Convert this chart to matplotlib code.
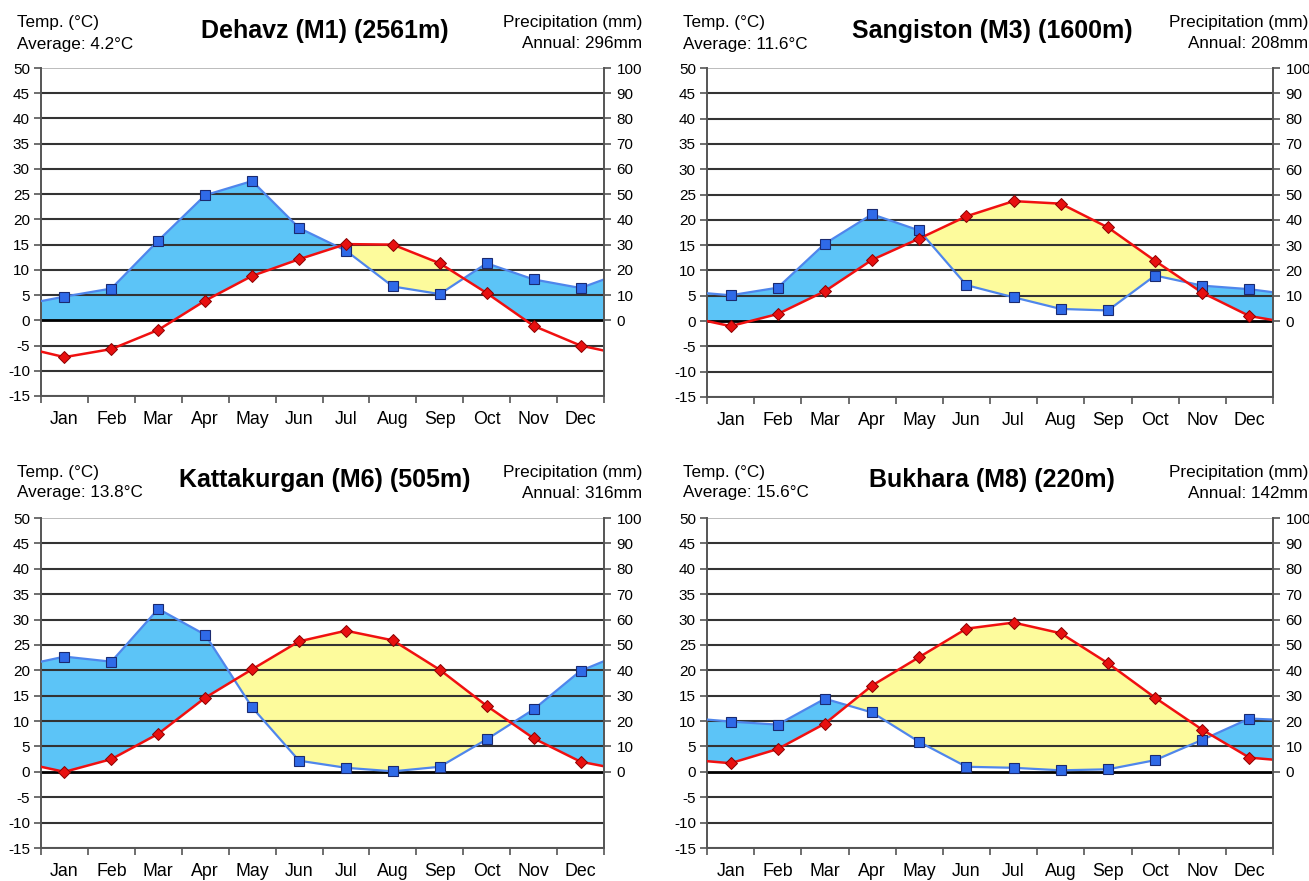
import numpy as np
import matplotlib.pyplot as plt
from matplotlib.transforms import ScaledTranslation

plt.rcParams['font.family'] = ['Liberation Sans', 'DejaVu Sans']

months = ["Jan", "Feb", "Mar", "Apr", "May", "Jun", "Jul", "Aug", "Sep", "Oct", "Nov", "Dec"]
stations = ["Dehavz (M1) (2561m)", "Sangiston (M3) (1600m)",
            "Kattakurgan (M6) (505m)", "Bukhara (M8) (220m)"]
avg_temp = [4.2, 11.6, 13.8, 15.6]
annual_precip = [296, 208, 316, 142]

# monthly mean temperature (°C)
dehavz_temp = [-7.3, -5.7, -1.9, 3.9, 8.8, 12.1, 15.1, 15.0, 11.3, 5.4, -1.1, -5.0]
sangiston_temp = [-1.0, 1.4, 5.9, 12.1, 16.3, 20.7, 23.7, 23.2, 18.5, 11.9, 5.6, 1.0]
kattakurgan_temp = [0.0, 2.5, 7.5, 14.6, 20.2, 25.7, 27.8, 25.9, 20.1, 13.0, 6.6, 2.0]
bukhara_temp = [1.7, 4.5, 9.5, 17.0, 22.6, 28.2, 29.4, 27.3, 21.4, 14.6, 8.3, 2.8]

# monthly precipitation (mm)
dehavz_precip = [9.4, 12.6, 31.6, 49.6, 55.2, 36.6, 27.6, 13.4, 10.4, 22.6, 16.2, 12.8]
sangiston_precip = [10.2, 13.2, 30.6, 42.2, 35.8, 14.2, 9.4, 4.8, 4.2, 18.0, 14.0, 12.6]
kattakurgan_precip = [45.4, 43.4, 64.2, 54.0, 25.4, 4.4, 1.6, 0.2, 2.0, 12.8, 24.6, 39.8]
bukhara_precip = [19.8, 18.6, 28.8, 23.4, 11.8, 2.0, 1.6, 0.6, 1.0, 4.6, 12.6, 21.0]

# values where the curves meet the left / right plot edges
dehavz_temp_edges = [-6.2, -6.0]
sangiston_temp_edges = [0.0, 0.2]
kattakurgan_temp_edges = [1.0, 1.1]
bukhara_temp_edges = [2.1, 2.4]
dehavz_precip_edges = [7.6, 16.2]
sangiston_precip_edges = [11.0, 11.4]
kattakurgan_precip_edges = [43.4, 43.6]
bukhara_precip_edges = [20.6, 20.6]

temps = [dehavz_temp, sangiston_temp, kattakurgan_temp, bukhara_temp]
precips = [dehavz_precip, sangiston_precip, kattakurgan_precip, bukhara_precip]
temp_edges = [dehavz_temp_edges, sangiston_temp_edges, kattakurgan_temp_edges, bukhara_temp_edges]
precip_edges = [dehavz_precip_edges, sangiston_precip_edges, kattakurgan_precip_edges, bukhara_precip_edges]

MM_PER_DEG = 2.0
W, H = 1309, 881
fig = plt.figure(figsize=(W / 100, H / 100), dpi=100)

# panel boxes in pixels: (left, top, right, bottom)
boxes = [(41, 68, 604, 396), (707, 68, 1273, 397),
         (41, 518, 604, 848), (707, 518, 1273, 848)]
right_text_x = [642, 1308, 642, 1308]
left_text_x = [17, 683, 17, 683]

BLUE_FILL = '#5cc4f7'
YELLOW_FILL = '#fdfb9c'
BLUE_LINE = '#4f86ec'
RED_LINE = '#f01010'
GRID = '#333333'
TXT = 12.3

for i in range(4):
    l, t, r, b = boxes[i]
    ax = fig.add_axes([l / W, 1 - b / H, (r - l) / W, (b - t) / H])
    ax2 = ax.twinx()

    xc = np.arange(12) + 0.5
    xs = np.concatenate([[0.0], xc, [12.0]])
    tv = np.concatenate([[temp_edges[i][0]], temps[i], [temp_edges[i][1]]])
    pv = np.concatenate([[precip_edges[i][0]], precips[i], [precip_edges[i][1]]]) / MM_PER_DEG

    xd = np.linspace(0, 12, 2401)
    td = np.interp(xd, xs, tv)
    pd_ = np.interp(xd, xs, pv)

    ax.fill_between(xd, pd_, np.maximum(td, 0), where=pd_ >= np.maximum(td, 0),
                    interpolate=True, color=BLUE_FILL, lw=0, zorder=1)
    ax.fill_between(xd, td, pd_, where=td >= pd_, interpolate=True,
                    color=YELLOW_FILL, lw=0, zorder=1)

    for yv in range(-15, 51, 5):
        if yv == 0:
            ax.axhline(yv, color='black', lw=2.0, zorder=2)
        elif yv == 50:
            ax.axhline(yv, color='#b0b0b0', lw=1.2, zorder=2)
        else:
            ax.axhline(yv, color=GRID, lw=1.5, zorder=2)

    ax.plot(xs, pv, color=BLUE_LINE, lw=1.6, zorder=3)
    ax.plot(xc, np.array(precips[i]) / MM_PER_DEG, ls='none', marker='s', ms=6.8,
            mfc='#2f6ae8', mec='#1a2a70', mew=0.8, zorder=4)
    ax.plot(xs, tv, color=RED_LINE, lw=1.8, zorder=3)
    ax.plot(xc, temps[i], ls='none', marker='D', ms=5.8,
            mfc='#e81010', mec='#8a0000', mew=0.7, zorder=4)

    ax.set_xlim(0, 12)
    ax.set_ylim(-15, 50)
    ax.set_yticks(range(-15, 51, 5))
    ax.set_yticklabels([str(v) for v in range(-15, 51, 5)], fontsize=11)
    ax.set_xticks(range(13))
    ax.set_xticklabels([])
    ax.set_xticks(xc, minor=True)
    ax.set_xticklabels(months, minor=True, fontsize=12.8)
    shift = ScaledTranslation(-5 / 100, 0, fig.dpi_scale_trans)
    for lab in ax.get_xticklabels(minor=True):
        lab.set_transform(lab.get_transform() + shift)
    ax.tick_params(axis='x', which='minor', length=0, pad=11)
    ax.tick_params(axis='x', which='major', length=5, width=1.2, color='#555555', direction='out')
    ax.tick_params(axis='y', length=5, width=1.2, color='#555555', direction='out', pad=3)

    ax2.set_ylim(-15 * MM_PER_DEG, 50 * MM_PER_DEG)
    ax2.set_yticks(range(0, 101, 10))
    ax2.set_yticklabels([str(v) for v in range(0, 101, 10)], fontsize=11)
    ax2.tick_params(axis='y', length=5, width=1.2, color='#555555', direction='out', pad=4)

    for a in (ax, ax2):
        a.spines['top'].set_visible(False)
        for s in ('left', 'right', 'bottom'):
            a.spines[s].set_color('#555555')
            a.spines[s].set_linewidth(1.4)
    ax.spines['right'].set_visible(False)
    ax2.spines['left'].set_visible(False)
    ax2.spines['bottom'].set_visible(False)

    # header texts
    top_off = 0 if i < 2 else 449
    cx = (l + r) / 2 + 2
    fig.text(cx / W, 1 - (31 + top_off) / H, stations[i], ha='center', va='center',
             fontsize=18, fontweight='bold')
    fig.text(left_text_x[i] / W, 1 - (23 + top_off) / H, "Temp. (°C)", ha='left',
             va='center', fontsize=TXT)
    fig.text(left_text_x[i] / W, 1 - (44 + top_off) / H, f"Average: {avg_temp[i]}°C",
             ha='left', va='center', fontsize=TXT)
    fig.text(right_text_x[i] / W, 1 - (23 + top_off) / H, "Precipitation (mm)",
             ha='right', va='center', fontsize=TXT)
    fig.text(right_text_x[i] / W, 1 - (44 + top_off) / H, f"Annual: {annual_precip[i]}mm",
             ha='right', va='center', fontsize=TXT)

fig.savefig('out.png', dpi=100, facecolor='white')
